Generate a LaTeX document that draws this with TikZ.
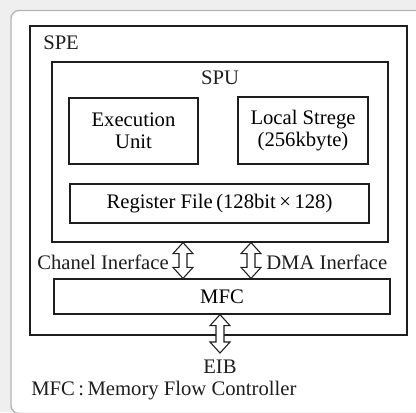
\documentclass[tikz,border=0pt]{standalone}
\usepackage{fontspec}
\setmainfont{Liberation Serif}
\usetikzlibrary{calc}
\definecolor{bggray}{HTML}{EFEFEF}
\definecolor{panelline}{HTML}{B4B4B4}
\definecolor{ink}{HTML}{1E1E1E}
\tikzset{
  box/.style={draw=ink, line width=0.9pt, rectangle, inner sep=0pt, align=center},
  lbl/.style={inner sep=0pt, text=ink},
  arr/.style={draw=ink, line width=0.8pt, fill=white, line join=miter},
}
\newcommand\hollowarrow[2]{%
  \draw[arr] (#1) -- ($(#1)+(10,11)$) -- ($(#1)+(4,11)$) -- ($(#2)+(4,-11)$) -- ($(#2)+(10,-11)$) -- (#2)
    -- ($(#2)+(-10,-11)$) -- ($(#2)+(-4,-11)$) -- ($(#1)+(-4,11)$) -- ($(#1)+(-10,11)$) -- cycle;}
\begin{document}
\begin{tikzpicture}[x=0.75pt, y=-0.75pt, font=\fontsize{15.5}{16.5}\selectfont]
\useasboundingbox (0,0) rectangle (416,412);
\fill[bggray] (0,0) rectangle (416,412);
\begin{scope}
  \clip (0,0) rectangle (416,412);
  \draw[fill=white, draw=panelline, line width=1pt, rounded corners=6pt] (11,10.5) rectangle (440,413.5);
\end{scope}

\node[box, minimum width=282.75pt, minimum height=231.75pt] (spe) at (218.5,180.5) {};
\node[lbl, anchor=west] (spelbl) at (43,43) {SPE};
\node[box, minimum width=252pt, minimum height=135pt] (spu) at (220,152) {};
\node[lbl] (spulbl) at (220,78) {SPU};
\node[box, minimum width=96.75pt, minimum height=49.5pt] (exu) at (133.5,131) {Execution\\Unit};
\node[box, minimum width=97.5pt, minimum height=50.25pt] (ls) at (303,130.5) {Local Strege\\(256kbyte)};
\node[box, minimum width=224.25pt, minimum height=29.25pt] (rf) at (219.5,203.5) {Register File\,(128bit\,×\,128)};
\node[box, minimum width=252pt, minimum height=26.25pt] (mfc) at (222,296.5) {MFC};

\coordinate (x1) at (183,0);
\coordinate (x2) at (251,0);
\coordinate (x3) at (220,0);
\coordinate (a1t) at (spu.south -| x1);
\coordinate (a1b) at (mfc.north -| x1);
\coordinate (a2t) at (spu.south -| x2);
\coordinate (a2b) at (mfc.north -| x2);
\coordinate (a3t) at (mfc.south -| x3);
\coordinate (a3b) at (220,353);
\hollowarrow{a1t}{a1b}
\hollowarrow{a2t}{a2b}
\hollowarrow{a3t}{a3b}

\node[lbl, anchor=east] (chan) at (169,262) {Chanel Inerface};
\node[lbl, anchor=west] (dma) at (266,262) {DMA Inerface};
\node[lbl] (eib) at (220,367) {EIB};
\node[lbl, anchor=west] (legend) at (31,391) {MFC\,:\,Memory Flow Controller};
\end{tikzpicture}
\end{document}
